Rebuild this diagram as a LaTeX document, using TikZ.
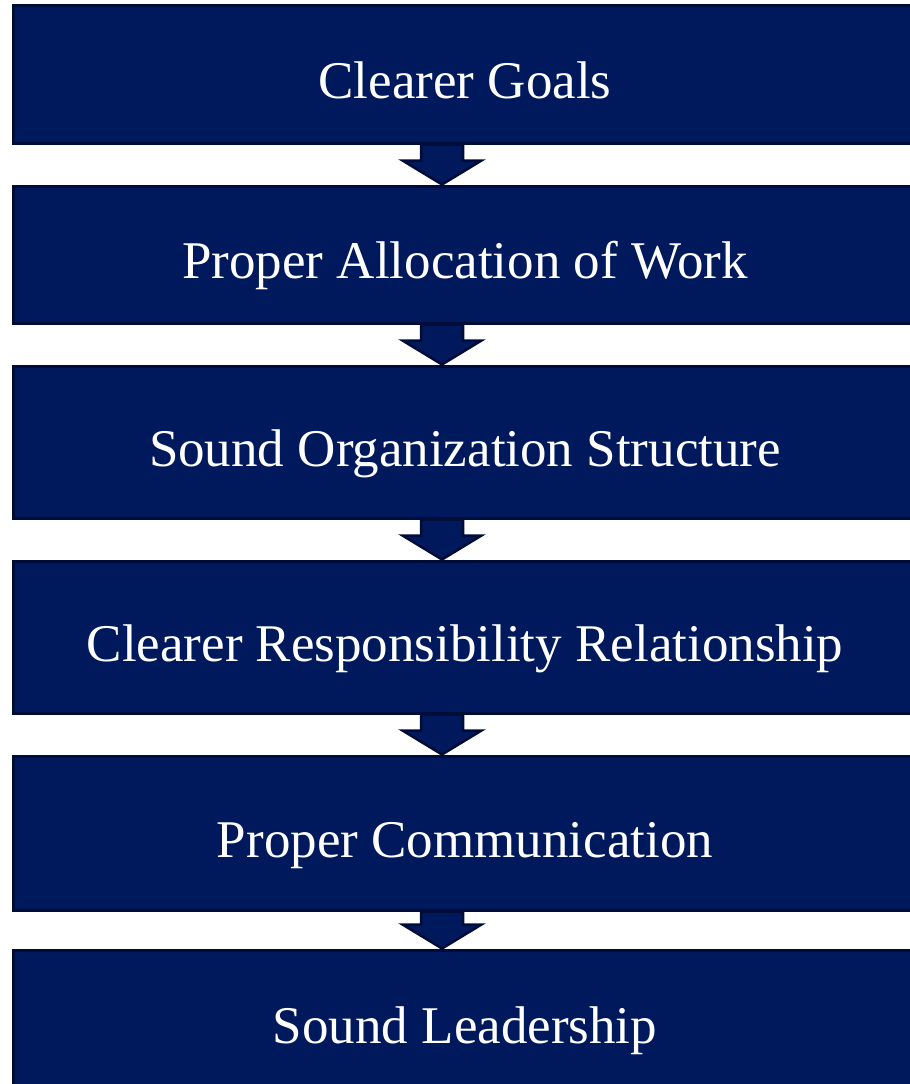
\documentclass[tikz,border=0pt]{standalone}
\usepackage{fontspec}
\setmainfont{Liberation Serif}
\usepackage{tikz}
\usetikzlibrary{calc}
\usetikzlibrary{positioning}

\definecolor{boxblue}{RGB}{0,25,92}
\definecolor{boxedge}{RGB}{0,12,56}

\tikzset{
  stagebox/.style={draw=boxedge, fill=boxblue, line width=3pt, text=white,
    minimum width=904pt, inner sep=0pt, text height=48pt, text depth=0pt,
    font=\fontsize{53}{60}\selectfont},
  blockarrow/.style={draw=boxedge, fill=boxblue, line width=2.5pt, line join=miter}
}

\begin{document}
\begin{tikzpicture}[x=1pt,y=-1pt]
  \useasboundingbox (0,0) rectangle (910,1084);
  %% the six stages
  \node[stagebox, minimum height=138pt] (Goals) at (465,74) {Clearer Goals};
  \node[stagebox, minimum height=137pt] (Work) at (465,254.5) {Proper Allocation of Work};
  \node[stagebox, minimum height=152pt] (Structure) at (465,442) {Sound Organization Structure};
  \node[stagebox, minimum height=152pt] (Responsibility) at (465,637) {Clearer Responsibility Relationship};
  \node[stagebox, minimum height=154pt] (Communication) at (465,833) {Proper Communication};
  \node[stagebox, minimum height=138pt] (Leadership) at (465,1019) {Sound Leadership};
  %%
  \coordinate (ax) at (442,0);
  \foreach \a/\b in {Goals/Work,Work/Structure,Structure/Responsibility,
      Responsibility/Communication,Communication/Leadership}{
    \draw[blockarrow] ($(\a.south -| ax)+(-21,0)$) -- ($(\b.north -| ax)+(-21,-24)$)
      -- ($(\b.north -| ax)+(-39.5,-24)$) -- (\b.north -| ax)
      -- ($(\b.north -| ax)+(39.5,-24)$) -- ($(\b.north -| ax)+(21,-24)$)
      -- ($(\a.south -| ax)+(21,0)$) -- cycle;
  }
\end{tikzpicture}
\end{document}
